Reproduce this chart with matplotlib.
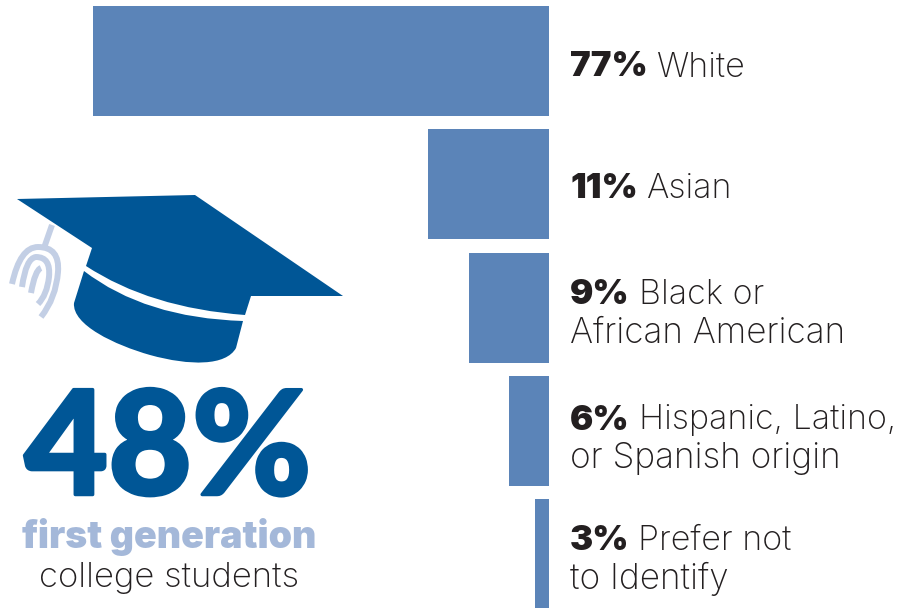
import matplotlib
matplotlib.use('Agg')
import matplotlib.pyplot as plt
import matplotlib.patheffects as pe
from matplotlib.patches import PathPatch
from matplotlib.path import Path

# bar lengths are read off the picture, they are not proportional to the percentages
percents = ['77%', '11%', '9%', '6%', '3%']
bar_lengths = [456, 121, 80, 40, 14]
line_one = ['White', 'Asian', 'Black or', 'Hispanic, Latino,', 'Prefer not']
line_two = ['', '', 'African American', 'or Spanish origin', 'to Identify']

BAR = '#5b84b8'
DARK = '#005696'
LIGHT = '#a4b8d9'
TASSEL = '#c3cfe5'
INK = '#231f20'
FONT = 'Inter'

bar_tops = [6, 129, 253, 376, 499]
bar_height = 110
BAR_RIGHT = 549
TEXT_X = 570
first_y = [64, 186, 291, 417, 537]
second_y = [None, None, 330, 455, 575]

fig = plt.figure(figsize=(9, 6.08), dpi=100)
ax = fig.add_axes([0, 0, 1, 1])
ax.set_xlim(0, 900)
ax.set_ylim(608, 0)
ax.axis('off')

ax.barh([t + bar_height / 2 for t in bar_tops], bar_lengths, height=bar_height,
        left=[BAR_RIGHT - b for b in bar_lengths], color=BAR)

fig.canvas.draw()
rend = fig.canvas.get_renderer()

for i, pct in enumerate(percents):
    t = ax.text(TEXT_X, first_y[i], pct, fontsize=25, fontweight='black', family=FONT,
                color=INK, va='center_baseline', ha='left')
    right = t.get_window_extent(rend).x1
    ax.text(right + 9, first_y[i], line_one[i], fontsize=24.5, fontweight='light', family=FONT,
            color=INK, va='center_baseline', ha='left')
    if second_y[i]:
        ax.text(TEXT_X, second_y[i], line_two[i], fontsize=25.3, fontweight='light', family=FONT,
                color=INK, va='center_baseline', ha='left')

# Lato black is a bit thin next to the original, thicken it with a stroke
big = ax.text(168, 494.5, '48%', fontsize=104, fontweight='black', family='Lato', color=DARK,
              ha='center', va='baseline')
big.set_path_effects([pe.withStroke(linewidth=2.5, foreground=DARK)])
ax.text(169, 548, 'first generation', fontsize=27, fontweight='black', family=FONT,
        color=LIGHT, ha='center', va='baseline')
ax.text(169, 587, 'college students', fontsize=25, fontweight='light', family=FONT,
        color=INK, ha='center', va='baseline')

# mortarboard icon
M, L, C3, C4, Z = Path.MOVETO, Path.LINETO, Path.CURVE3, Path.CURVE4, Path.CLOSEPOLY
board = Path([(17, 199), (195, 195), (343, 296), (251, 296), (245, 315),
              (150, 308), (86, 266), (92, 248), (17, 199)],
             [M, L, L, L, L, C3, C3, L, Z])
base = Path([(84, 271), (145, 318), (243, 321), (236, 348),
             (226, 366), (190, 366), (150, 355),
             (115, 345), (72, 325), (74, 303), (84, 271)],
            [M, C3, C3, L, C4, C4, C4, C4, C4, C4, Z])
ax.add_patch(PathPatch(board, fc=DARK, ec='none'))
ax.add_patch(PathPatch(base, fc=DARK, ec='none'))

stem = Path([(52, 225), (44, 248)], [M, L])
outer = Path([(12, 284), (20, 247), (38, 247), (60, 247), (58, 272), (56, 298), (41, 317)],
             [M, C3, C3, C3, C3, C3, C3])
middle = Path([(22, 287), (26, 258), (36, 257), (51, 257), (49, 277), (47, 295), (38, 304)],
              [M, C3, C3, C3, C3, C3, C3])
inner = Path([(31, 293), (35, 270), (41, 268)], [M, C3, C3])
for p in [stem, outer, middle, inner]:
    ax.add_patch(PathPatch(p, fc='none', ec=TASSEL, lw=4.3, capstyle='butt'))

fig.savefig('out.png', dpi=100)
